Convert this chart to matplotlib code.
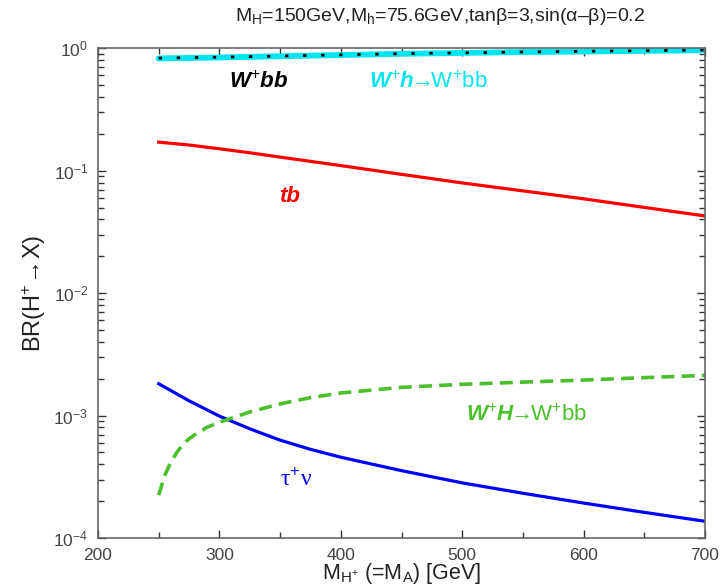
import numpy as np
import matplotlib.pyplot as plt
from matplotlib.ticker import MultipleLocator, LogLocator, NullFormatter

plt.rcParams['font.family'] = ['Liberation Sans', 'DejaVu Sans']
plt.rcParams['mathtext.fontset'] = 'custom'
plt.rcParams['mathtext.rm'] = 'Liberation Sans'
plt.rcParams['mathtext.it'] = 'Liberation Sans:italic'
plt.rcParams['mathtext.bf'] = 'Liberation Sans:bold'
plt.rcParams['mathtext.bfit'] = 'Liberation Sans:italic:bold'

# charged Higgs mass [GeV]
m_cyan = [250, 300, 350, 400, 450, 500, 550, 600, 650, 700]
br_whbb = [0.825, 0.84, 0.86, 0.88, 0.90, 0.915, 0.93, 0.94, 0.952, 0.963]
br_wbb = [0.83, 0.845, 0.863, 0.883, 0.902, 0.917, 0.932, 0.943, 0.955, 0.966]

m_tb = [250, 275, 300, 325, 350, 400, 450, 500, 550, 600, 650, 700]
br_tb = [0.171, 0.162, 0.151, 0.140, 0.129, 0.110, 0.0933, 0.0794, 0.0684, 0.0589, 0.0501, 0.0427]

m_tau = [250, 275, 300, 325, 350, 375, 400, 450, 500, 550, 600, 650, 700]
br_tau = [1.82e-3, 1.32e-3, 9.9e-4, 7.8e-4, 6.3e-4, 5.3e-4, 4.57e-4, 3.55e-4, 2.82e-4,
          2.32e-4, 1.93e-4, 1.62e-4, 1.37e-4]

m_wH = [250, 255, 260, 265, 270, 275, 280, 290, 300, 325, 350, 375, 400, 450, 500, 550, 600, 650, 700]
br_wH = [2.24e-4, 3.24e-4, 4.17e-4, 5.01e-4, 5.82e-4, 6.46e-4, 7.0e-4, 8.04e-4, 8.81e-4, 1.07e-3,
         1.245e-3, 1.40e-3, 1.53e-3, 1.70e-3, 1.80e-3, 1.875e-3, 1.95e-3, 2.04e-3, 2.13e-3]

fig = plt.figure(figsize=(7.22, 5.88), dpi=100)
ax = fig.add_axes([0.1357, 0.085, 0.8408, 0.833])

ax.semilogy(m_cyan, br_whbb, color='#00e5f0', lw=4.2, solid_capstyle='round')
ax.semilogy(m_cyan, br_wbb, color='black', lw=2.0, dashes=(1.2, 5.3))
ax.semilogy(m_tb, br_tb, color='#ff0000', lw=2.3)
ax.semilogy(m_tau, br_tau, color='#0000ff', lw=2.3)
ax.semilogy(m_wH, br_wH, color='#4cbf2c', lw=2.6, dashes=(3.6, 2.0))

ax.set_xlim(200, 700)
ax.set_ylim(1e-4, 1)

ax.xaxis.set_major_locator(MultipleLocator(100))
ax.xaxis.set_minor_locator(MultipleLocator(50))
ax.yaxis.set_major_locator(LogLocator(base=10, numticks=10))
ax.yaxis.set_minor_locator(LogLocator(base=10, subs=np.arange(2, 10), numticks=20))
ax.yaxis.set_minor_formatter(NullFormatter())
ax.tick_params(which='both', direction='in', top=True, right=True, color='#333333',
               labelcolor='#444444', labelsize=12.5, width=1.0)
ax.tick_params(which='major', length=6, pad=7)
ax.tick_params(which='minor', length=4)
for s in ax.spines.values():
    s.set_color('#666666')
    s.set_linewidth(1.2)

fig.text(0.609, 0.972, 'M$_\\mathrm{H}$=150GeV,M$_\\mathrm{h}$=75.6GeV,tanβ=3,sin(α–β)=0.2',
         fontsize=14, color='#222222', ha='center', va='center')
ax.set_xlabel('M$_{\\mathrm{H}^{+}}$ (=M$_\\mathrm{A}$) [GeV]', fontsize=15.5, color='#222222', labelpad=-1)
ax.set_ylabel('BR(H$^{+}$$\\!\\rightarrow\\!$X)', fontsize=17, color='#222222', labelpad=4)

ax.text(332, 0.53, 'W$^{+}$bb', color='black', fontsize=16, fontweight='bold',
        style='italic', ha='center', va='center')
ax.text(472, 0.53, '$\\mathbfit{W}^{+}\\mathbfit{h}\\!\\!\\rightarrow\\!\\!$W$^{+}$bb', color='#00e5f0',
        fontsize=16, ha='center', va='center')
ax.text(358, 0.0615, 'tb', color='#ff0000', fontsize=16, fontweight='bold',
        style='italic', ha='center', va='center')
ax.text(553, 1.0e-3, '$\\mathbfit{W}^{+}\\mathbfit{H}\\!\\!\\rightarrow\\!\\!$W$^{+}$bb', color='#4cbf2c',
        fontsize=16, ha='center', va='center')
ax.text(363, 3.0e-4, 'τ$^{+}$ν', color='#0000ff', fontsize=17,
        family=['Liberation Serif', 'DejaVu Serif'], ha='center', va='center')

fig.savefig('out.png', dpi=100)
